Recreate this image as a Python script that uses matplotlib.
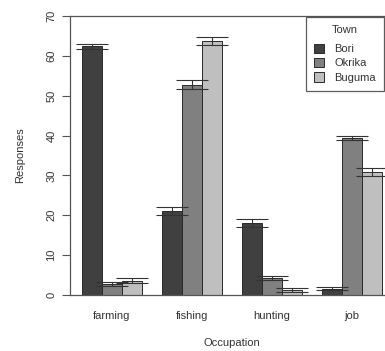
import matplotlib
matplotlib.use("Agg")
import matplotlib.pyplot as plt
from matplotlib.patches import Patch
import numpy as np

plt.rcParams['font.family'] = ['Liberation Sans', 'DejaVu Sans']

occupations = ["farming", "fishing", "hunting", "job"]
towns = ["Bori", "Okrika", "Buguma"]
responses = {
    "Bori":   [62.4, 21.0, 18.0, 1.6],
    "Okrika": [2.7, 52.8, 4.3, 39.4],
    "Buguma": [3.6, 63.8, 1.3, 30.9],
}
errors = {
    "Bori":   [0.6, 1.0, 1.0, 0.4],
    "Okrika": [0.5, 1.1, 0.5, 0.5],
    "Buguma": [0.6, 1.0, 0.5, 1.0],
}
colors = {"Bori": "#404040", "Okrika": "#808080", "Buguma": "#bfbfbf"}

W, H = 385, 351
fig = plt.figure(figsize=(W / 100, H / 100), dpi=100)

# plot region in pixels: left 70, right 394 (runs past the figure edge), top 16, bottom 295
left, right, top, bottom = 70, 394, 16, 295
ax = fig.add_axes([left / W, (H - bottom) / H, (right - left) / W, (bottom - top) / H])

# R-style grouped bars: width 1, one unit of space between groups
n_groups = len(occupations)
group_start = 1 + 4 * np.arange(n_groups)
for i, town in enumerate(towns):
    x = group_start + i + 0.5
    ax.bar(x, responses[town], width=1.0, color=colors[town],
           edgecolor="#2a2a2a", linewidth=0.7, zorder=2)
    ax.errorbar(x, responses[town], yerr=errors[town], fmt="none",
                ecolor="#333333", elinewidth=0.8, capsize=11.5,
                capthick=0.8, zorder=3)

ax.set_xlim(0.4, 16.6)
ax.set_ylim(0, 70)

ax.spines["right"].set_visible(False)
for side in ["left", "top", "bottom"]:
    ax.spines[side].set_color("#555555")
    ax.spines[side].set_linewidth(0.9)

ax.set_yticks(np.arange(0, 71, 10))
ax.tick_params(axis="y", length=5.8, width=0.8, color="#555555",
               pad=4, labelsize=8, labelcolor="#333333")
for lab in ax.get_yticklabels():
    lab.set_rotation(90)
    lab.set_va("center")

ax.set_xticks(group_start + 1.5)
ax.set_xticklabels(occupations)
ax.tick_params(axis="x", length=0, pad=11.5, labelsize=8, labelcolor="#333333")

ax.set_ylabel("Responses", fontsize=8, color="#333333", labelpad=15)
ax.set_xlabel("Occupation", fontsize=8, color="#333333", labelpad=12)

handles = [Patch(facecolor=colors[t], edgecolor="#2a2a2a", linewidth=0.7) for t in towns]
leg = fig.legend(handles, towns, title="Town", loc="upper right",
                 bbox_to_anchor=(384 / W, (H - 17) / H), frameon=True,
                 fancybox=False, edgecolor="#333333", fontsize=8,
                 title_fontsize=8, handlelength=0.9, handleheight=0.9,
                 handletextpad=0.9, labelspacing=0.35, borderpad=0.75,
                 borderaxespad=0)
leg._legend_box.sep = 6
leg.get_frame().set_linewidth(0.9)
for t in leg.get_texts():
    t.set_color("#333333")
leg.get_title().set_color("#333333")

fig.savefig("out.png", dpi=100)
